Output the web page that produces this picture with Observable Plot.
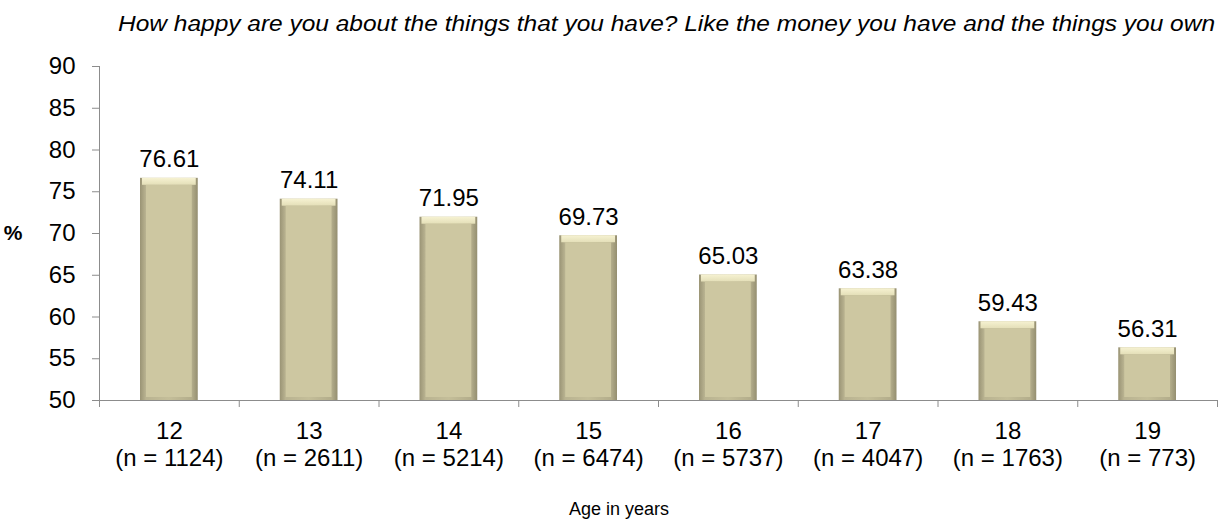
<!DOCTYPE html>
<html><head><meta charset="utf-8">
<script src="https://cdn.jsdelivr.net/npm/d3@7"></script>
<script src="https://cdn.jsdelivr.net/npm/@observablehq/plot@0.6"></script>
<style>body{margin:0;background:#fff}#chart{width:1222px;height:522px}</style>
</head><body><div id="chart"></div>
<script>
const ages = ["12","13","14","15","16","17","18","19"];
const ns = [1124, 2611, 5214, 6474, 5737, 4047, 1763, 773];
const values = [76.61, 74.11, 71.95, 69.73, 65.03, 63.38, 59.43, 56.31];
const yTicks = [50, 55, 60, 65, 70, 75, 80, 85, 90];
const subtitle = "How happy are you about the things that you have? Like the money you have and the things you own";
const xTitle = "Age in years";
const yTitle = "%";

const data = ages.map((a, i) => ({i, age: a, n: ns[i], value: values[i]}));
const grey = "#8c8c8c";
const font = "'Liberation Sans', Arial, sans-serif";

const plot = Plot.plot({
  width: 1222, height: 522,
  marginLeft: 99, marginRight: 5, marginTop: 66, marginBottom: 122,
  style: {fontFamily: font, fontSize: "24px", color: "#000", background: "#fff", overflow: "visible"},
  x: {type: "linear", domain: [0, ages.length]},
  y: {domain: [50, 90]},
  marks: [
    Plot.axisY({ticks: yTicks, tickSize: 7, tickPadding: 17, stroke: grey, label: null, tickFormat: d => String(d)}),
    Plot.axisX({ticks: d3.range(0, ages.length + 1), tickSize: 7, tickFormat: () => "", stroke: grey, label: null}),
    Plot.axisX({ticks: data.map(d => d.i + 0.5), tickSize: 0, tickPadding: 20, lineHeight: 1.1,
      tickFormat: t => { const d = data[Math.floor(t)]; return `${d.age}\n(n = ${d.n})`; }, label: null}),
    Plot.ruleY([50], {stroke: grey}),
    Plot.ruleX([0], {stroke: grey}),
    // bar base (dark bevel edges)
    Plot.rectY(data, {x1: d => d.i, x2: d => d.i + 1, y1: 50, y2: "value", insetLeft: 41, insetRight: 41,
      fill: "url(#barEdge)", ariaLabel: "bar-base"}),
    // top highlight bevel
    Plot.rectY(data, {x1: d => d.i, x2: d => d.i + 1, y1: "value", y2: "value", insetLeft: 43, insetRight: 43,
      insetBottom: -7, fill: "url(#barTop)"}),
    // flat face
    Plot.rectY(data, {x1: d => d.i, x2: d => d.i + 1, y1: 50, y2: "value", insetLeft: 47, insetRight: 47,
      insetTop: 7, insetBottom: 3, fill: "#cdc7a1"}),
    Plot.text(data, {x: d => d.i + 0.5, y: "value", text: d => d.value.toFixed(2), lineAnchor: "bottom", dy: -11,
      fontSize: 24, fill: "#000"})
  ]
});

const svg = d3.select(plot);
const defs = svg.insert("defs", ":first-child");
const ge = defs.append("linearGradient").attr("id", "barEdge").attr("x1", 0).attr("x2", 1).attr("y1", 0).attr("y2", 0);
[[0, "#9a9475"], [0.1, "#b9b391"], [0.5, "#c4be99"], [0.9, "#b3ad8b"], [1, "#948e70"]].forEach(([o, c]) =>
  ge.append("stop").attr("offset", o).attr("stop-color", c));
const gt = defs.append("linearGradient").attr("id", "barTop").attr("x1", 0).attr("x2", 0).attr("y1", 0).attr("y2", 1);
[[0, "#f6f2d2"], [1, "#e4dfb8"]].forEach(([o, c]) => gt.append("stop").attr("offset", o).attr("stop-color", c));
const f = defs.append("filter").attr("id", "barShadow").attr("x", "-20%").attr("y", "-10%").attr("width", "140%").attr("height", "130%");
f.append("feDropShadow").attr("dx", 1.5).attr("dy", 1.5).attr("stdDeviation", 1.5).attr("flood-color", "#000").attr("flood-opacity", 0.3);
svg.select('g[aria-label="bar-base"]').attr("filter", "url(#barShadow)");

svg.append("text").attr("x", 1215).attr("y", 31).attr("text-anchor", "end")
  .attr("font-style", "italic").attr("font-size", 22).attr("textLength", 1097).attr("lengthAdjust", "spacingAndGlyphs")
  .attr("fill", "#000").text(subtitle);
svg.append("text").attr("x", 13).attr("y", 240).attr("font-weight", "bold").attr("font-size", 21)
  .attr("fill", "#000").text(yTitle);
svg.append("text").attr("x", 619).attr("y", 515).attr("text-anchor", "middle").attr("font-size", 18)
  .attr("fill", "#000").text(xTitle);

document.getElementById("chart").appendChild(plot);
</script></body></html>
